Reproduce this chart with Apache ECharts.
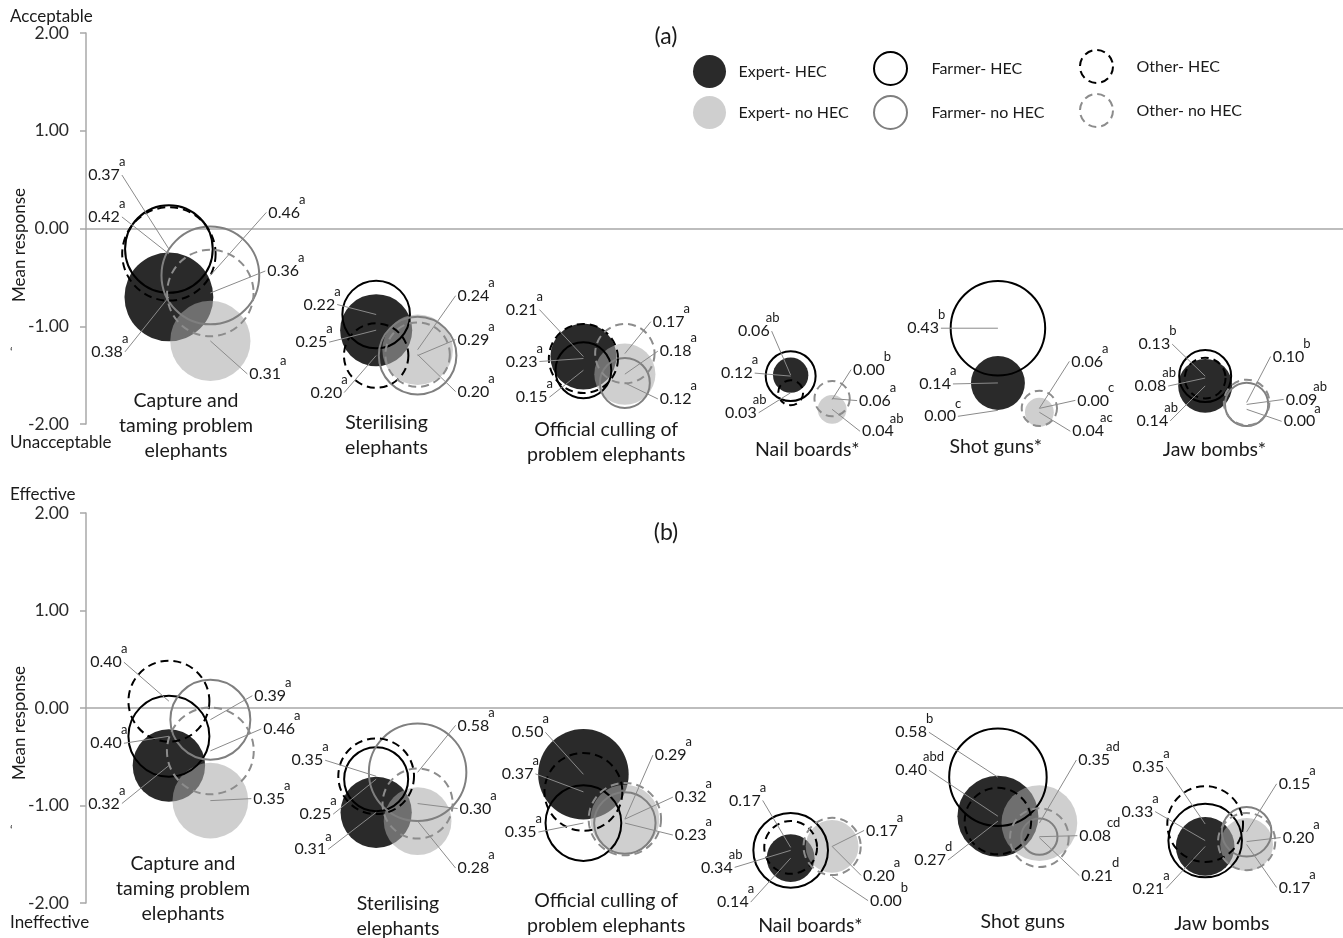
<!DOCTYPE html>
<html>
<head>
<meta charset="utf-8">
<title>Acceptability and effectiveness of HEC methods</title>
<script src="https://cdn.jsdelivr.net/npm/echarts@6/dist/echarts.min.js"></script>
<style>
  html, body { margin: 0; padding: 0; background: #fff; }
  #chart { width: 1343px; height: 938px; }
</style>
</head>
<body>
<div id="chart"></div>
<script>
// methods (x groups), same order in both panels
var methodsA = ['Capture and\ntaming problem\nelephants', 'Sterilising\nelephants', 'Official culling of\nproblem elephants', 'Nail boards*', 'Shot guns*', 'Jaw bombs*']
var methodsB = ['Capture and\ntaming problem\nelephants', 'Sterilising\nelephants', 'Official culling of\nproblem elephants', 'Nail boards*', 'Shot guns', 'Jaw bombs']
var methodX = [1, 3, 5, 7, 9, 11]
var noHecShift = 0.4

// (a) acceptability: mean response, bubble value (label) and significance letters
var accExpertHecMean = [-0.70, -1.04, -1.31, -1.50, -1.58, -1.61]
var accExpertHecSize = [0.38, 0.25, 0.21, 0.06, 0.14, 0.14]
var accExpertHecSig = ['a', 'a', 'a', 'ab', 'a', 'ab']

var accExpertNoMean = [-1.15, -1.24, -1.49, -1.85, -1.88, -1.85]
var accExpertNoSize = [0.31, 0.24, 0.18, 0.04, 0.04, 0.00]
var accExpertNoSig = ['a', 'a', 'a', 'ab', 'ac', 'a']

var accFarmerHecMean = [-0.21, -0.88, -1.45, -1.51, -1.02, -1.51]
var accFarmerHecSize = [0.37, 0.22, 0.15, 0.12, 0.43, 0.13]
var accFarmerHecSig = ['a', 'a', 'a', 'a', 'b', 'b']

var accFarmerNoMean = [-0.48, -1.30, -1.58, -1.75, -1.84, -1.80]
var accFarmerNoSize = [0.46, 0.29, 0.12, 0.00, 0.00, 0.09]
var accFarmerNoSig = ['a', 'a', 'a', 'b', 'c', 'ab']

var accOtherHecMean = [-0.26, -1.30, -1.33, -1.68, -1.86, -1.53]
var accOtherHecSize = [0.42, 0.20, 0.23, 0.03, 0.00, 0.08]
var accOtherHecSig = ['a', 'a', 'a', 'ab', 'c', 'ab']

var accOtherNoMean = [-0.66, -1.29, -1.28, -1.74, -1.84, -1.78]
var accOtherNoSize = [0.36, 0.20, 0.17, 0.06, 0.06, 0.10]
var accOtherNoSig = ['a', 'a', 'a', 'a', 'a', 'b']

// (b) effectiveness
var effExpertHecMean = [-0.59, -1.07, -0.68, -1.54, -1.11, -1.42]
var effExpertHecSize = [0.32, 0.31, 0.50, 0.14, 0.40, 0.21]
var effExpertHecSig = ['a', 'a', 'a', 'a', 'abd', 'a']

var effExpertNoMean = [-0.95, -1.16, -1.14, -1.42, -1.18, -1.40]
var effExpertNoSize = [0.35, 0.28, 0.29, 0.17, 0.35, 0.17]
var effExpertNoSig = ['a', 'a', 'a', 'a', 'ad', 'a']

var effFarmerHecMean = [-0.29, -0.73, -1.18, -1.46, -0.71, -1.36]
var effFarmerHecSize = [0.40, 0.25, 0.35, 0.34, 0.58, 0.33]
var effFarmerHecSig = ['a', 'a', 'a', 'ab', 'b', 'a']

var effFarmerNoMean = [-0.12, -0.66, -1.18, -1.73, -1.32, -1.27]
var effFarmerNoSize = [0.39, 0.58, 0.23, 0.00, 0.08, 0.15]
var effFarmerNoSig = ['a', 'a', 'a', 'b', 'cd', 'a']

var effOtherHecMean = [0.07, -0.70, -0.86, -1.43, -1.16, -1.19]
var effOtherHecSize = [0.40, 0.35, 0.37, 0.17, 0.27, 0.35]
var effOtherHecSig = ['a', 'a', 'a', 'a', 'd', 'a']

var effOtherNoMean = [-0.44, -0.98, -1.14, -1.42, -1.33, -1.37]
var effOtherNoSize = [0.46, 0.30, 0.32, 0.20, 0.21, 0.20]
var effOtherNoSig = ['a', 'a', 'a', 'a', 'd', 'a']

// ---- layout (pixel offsets of each value label from its bubble centre) ----
var accLabelOffsets = {
  'Expert- HEC': [[-46, 55], [-49, 12], [-46, -47], [-21, -44], [-47, 1], [-37, 35]],
  'Expert- no HEC': [[39, 33], [40, -54], [35, -23], [30, 22], [33, 19], [37, 12]],
  'Farmer- HEC': [[-49, -74], [-41, -10], [-36, 27], [-38, -3], [-59, 0], [-35, -32]],
  'Farmer- no HEC': [[58, -63], [40, -16], [35, 16], [21, -30], [38, -8], [39, -5]],
  'Other- HEC': [[-49, -37], [-34, 37], [-46, 3], [-34, 20], [-42, 6], [-39, 8]],
  'Other- no HEC': [[57, -22], [40, 37], [28, -32], [27, 2], [32, -47], [26, -46]]
}
var effLabelOffsets = {
  'Expert- HEC': [[-49, 38], [-50, 37], [-40, -42], [-42, 44], [-71, -46], [-41, 42]],
  'Expert- no HEC': [[43, -2], [40, 47], [30, -64], [34, -16], [39, -63], [32, 43]],
  'Farmer- HEC': [[-47, 7], [-45, 35], [-47, 9], [-58, 17], [-71, -45], [-52, -29]],
  'Farmer- no HEC': [[44, -24], [40, -47], [50, 12], [38, 24], [40, -1], [32, -48]],
  'Other- HEC': [[-47, -39], [-53, -16], [-50, -18], [-30, -47], [-52, 39], [-41, -57]],
  'Other- no HEC': [[53, -22], [42, 5], [50, -22], [31, 29], [42, 38], [36, -4]]
}
// method name positions (first line centre, in axis units)
var catPosA = [[1.165, -1.757], [3.10, -1.992], [5.22, -2.063], [7.16, -2.258], [8.98, -2.237], [11.09, -2.258]]
var catPosB = [[1.136, -1.598], [3.21, -2.004], [5.22, -1.972], [7.19, -2.228], [9.24, -2.196], [11.16, -2.212]]

var grids = [
  { left: 86, right: 0, top: 33, height: 391 },
  { left: 86, right: 0, top: 513, height: 390 }
]

var FONT = 'Lato, "DejaVu Sans", sans-serif'
var numFont = '16px ' + FONT
var supFont = '13px ' + FONT
var catFont = '19.5px ' + FONT
var ink = '#1a1a1a'

var styles = {
  'Expert- HEC': { color: '#2a2a2a', opacity: 1 },
  'Expert- no HEC': { color: 'rgba(168,168,168,0.55)', opacity: 1 },
  'Farmer- HEC': { color: 'rgba(0,0,0,0)', borderColor: '#000', borderWidth: 2, opacity: 1 },
  'Farmer- no HEC': { color: 'rgba(0,0,0,0)', borderColor: '#7f7f7f', borderWidth: 2, opacity: 1 },
  'Other- HEC': { color: 'rgba(0,0,0,0)', borderColor: '#000', borderWidth: 2, borderType: [8, 5], opacity: 1 },
  'Other- no HEC': { color: 'rgba(0,0,0,0)', borderColor: '#8c8c8c', borderWidth: 2, borderType: [8, 5], opacity: 1 }
}

// draw order: fills first, rings on top
var panelA = [
  ['Expert- HEC', accExpertHecMean, accExpertHecSize, accExpertHecSig, true],
  ['Expert- no HEC', accExpertNoMean, accExpertNoSize, accExpertNoSig, false],
  ['Farmer- HEC', accFarmerHecMean, accFarmerHecSize, accFarmerHecSig, true],
  ['Farmer- no HEC', accFarmerNoMean, accFarmerNoSize, accFarmerNoSig, false],
  ['Other- HEC', accOtherHecMean, accOtherHecSize, accOtherHecSig, true],
  ['Other- no HEC', accOtherNoMean, accOtherNoSize, accOtherNoSig, false]
]
var panelB = [
  ['Expert- HEC', effExpertHecMean, effExpertHecSize, effExpertHecSig, true],
  ['Expert- no HEC', effExpertNoMean, effExpertNoSize, effExpertNoSig, false],
  ['Farmer- HEC', effFarmerHecMean, effFarmerHecSize, effFarmerHecSig, true],
  ['Farmer- no HEC', effFarmerNoMean, effFarmerNoSize, effFarmerNoSig, false],
  ['Other- HEC', effOtherHecMean, effOtherHecSize, effOtherHecSig, true],
  ['Other- no HEC', effOtherNoMean, effOtherNoSize, effOtherNoSig, false]
]

var measureCtx = document.createElement('canvas').getContext('2d')
function textWidth(s, font) {
  measureCtx.font = font
  return measureCtx.measureText(s).width
}

function panelMax(defs) {
  var m = 0
  defs.forEach(function (d) { d[2].forEach(function (v) { m = Math.max(m, v) }) })
  return m
}

// bubble area proportional to value, largest bubble = 25% of plot height
function bubbleSeries(panel, defs) {
  var vmax = panelMax(defs)
  var maxD = grids[panel].height * 0.25
  return defs.map(function (d) {
    return {
      type: 'scatter',
      name: d[0],
      xAxisIndex: panel,
      yAxisIndex: panel,
      silent: true,
      symbol: 'circle',
      symbolSize: function (val) { return maxD * Math.sqrt(val[2] / vmax) },
      itemStyle: styles[d[0]],
      data: d[1].map(function (m, i) {
        var item = { value: [methodX[i] + (d[4] ? 0 : noHecShift), m, d[2][i]] }
        if (!d[2][i]) item.symbol = 'none'
        return item
      })
    }
  })
}

function labelSeries(panel, defs, offsets) {
  var items = []
  defs.forEach(function (d) {
    d[1].forEach(function (m, i) {
      items.push({
        x: methodX[i] + (d[4] ? 0 : noHecShift),
        y: m,
        txt: d[2][i].toFixed(2),
        sig: d[3][i],
        off: offsets[d[0]][i]
      })
    })
  })
  return {
    type: 'custom',
    xAxisIndex: panel,
    yAxisIndex: panel,
    clip: false,
    silent: true,
    z: 10,
    data: items.map(function (it) { return [it.x, it.y] }),
    renderItem: function (params, api) {
      var it = items[params.dataIndex]
      var c = api.coord([it.x, it.y])
      var ax = c[0] + it.off[0]
      var ay = c[1] + it.off[1]
      var toLeft = it.off[0] < 0
      var w = textWidth(it.txt, numFont)
      var numRight = toLeft ? ax : ax + w
      var sx = numRight - 1 - (it.sig.length > 1 ? 3 : 0)
      return {
        type: 'group',
        children: [
          {
            type: 'line',
            shape: { x1: toLeft ? ax + 2 : ax - 2, y1: ay, x2: c[0], y2: c[1] },
            style: { stroke: '#8a8a8a', lineWidth: 1 }
          },
          {
            type: 'text',
            style: { text: it.txt, x: ax, y: ay, align: toLeft ? 'right' : 'left', verticalAlign: 'middle', font: numFont, fill: ink }
          },
          {
            type: 'text',
            style: { text: it.sig, x: sx, y: ay - 13, align: 'left', verticalAlign: 'middle', font: supFont, fill: ink }
          }
        ]
      }
    }
  }
}

function methodSeries(panel, names, pos) {
  return {
    type: 'custom',
    xAxisIndex: panel,
    yAxisIndex: panel,
    clip: false,
    silent: true,
    data: pos,
    renderItem: function (params, api) {
      var c = api.coord(pos[params.dataIndex])
      return {
        type: 'text',
        style: {
          text: names[params.dataIndex], x: c[0], y: c[1] - 12.5,
          align: 'center', verticalAlign: 'top', font: catFont, fill: ink, lineHeight: 25
        }
      }
    }
  }
}

function xAxisDef(i) {
  return {
    type: 'value', gridIndex: i, min: 0.2, max: 12.33,
    axisLine: { show: true, onZero: true, lineStyle: { color: '#a8a8a8', width: 1.5 } },
    axisTick: { show: false }, axisLabel: { show: false }, splitLine: { show: false }
  }
}
function yAxisDef(i) {
  return {
    type: 'value', gridIndex: i, min: -2, max: 2, interval: 1,
    axisLine: { show: true, onZero: false, lineStyle: { color: '#a8a8a8', width: 1.5 } },
    axisTick: { show: true, length: 6, lineStyle: { color: '#a8a8a8', width: 1.5 } },
    axisLabel: { formatter: function (v) { return v.toFixed(2) }, fontSize: 17.5, color: '#2a2a2a', margin: 17, fontFamily: FONT },
    splitLine: { show: false }
  }
}

function legendCol(names, left, top, w, gap) {
  return {
    orient: 'vertical', left: left, top: top, itemWidth: w, itemHeight: 33, itemGap: gap,
    icon: 'circle', selectedMode: false,
    textStyle: { fontSize: 16, color: ink, fontFamily: FONT },
    data: names.map(function (n) { return { name: n, itemStyle: styles[n] } })
  }
}

function label(text, x, y, size, extra) {
  var el = { type: 'text', x: x, y: y, silent: true, style: { text: text, font: size + 'px ' + FONT, fill: ink, verticalAlign: 'middle', align: 'left' } }
  if (extra) Object.assign(el, extra)
  return el
}
function centred(text, x, y, size, rot) {
  return label(text, x, y, size, {
    rotation: rot || 0,
    style: { text: text, font: size + 'px ' + FONT, fill: ink, align: 'center', verticalAlign: 'middle' }
  })
}

var chart = echarts.init(document.getElementById('chart'))
chart.setOption({
  animation: false,
  textStyle: { fontFamily: FONT },
  grid: grids,
  xAxis: [xAxisDef(0), xAxisDef(1)],
  yAxis: [yAxisDef(0), yAxisDef(1)],
  legend: [
    legendCol(['Expert- HEC', 'Expert- no HEC'], 688, 50, 48, 8),
    legendCol(['Farmer- HEC', 'Farmer- no HEC'], 868, 46, 72, 9),
    legendCol(['Other- HEC', 'Other- no HEC'], 1074, 44, 70, 9)
  ],
  graphic: [
    label('Acceptable', 10, 17, 17),
    label('Unacceptable', 10, 443, 17),
    label('Effective', 10, 495, 17),
    label('Ineffective', 10, 923, 17),
    centred('(a)', 666, 37, 23),
    centred('(b)', 666, 533, 23),
    centred('Mean response', 20, 245, 17, Math.PI / 2),
    centred('Mean response', 20, 723, 17, Math.PI / 2),
    label('\u2018', 10, 352, 12),
    label('\u2018', 10, 830, 12)
  ],
  series: []
    .concat(bubbleSeries(0, panelA))
    .concat(bubbleSeries(1, panelB))
    .concat([
      labelSeries(0, panelA, accLabelOffsets),
      labelSeries(1, panelB, effLabelOffsets),
      methodSeries(0, methodsA, catPosA),
      methodSeries(1, methodsB, catPosB)
    ])
})
</script>
</body>
</html>
